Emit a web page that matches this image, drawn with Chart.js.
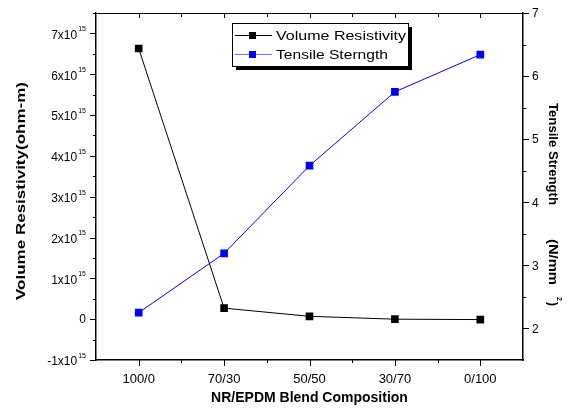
<!DOCTYPE html>
<html>
<head>
<meta charset="utf-8">
<script src="https://cdn.jsdelivr.net/npm/chart.js@4/dist/chart.umd.min.js"></script>
<style>
  body { margin: 0; background: #fff; }
  #wrap { width: 568px; height: 410px; }
</style>
</head>
<body>
<div id="wrap"><canvas id="js--chart"></canvas></div>
<script>
const labels = ["100/0", "70/30", "50/50", "30/70", "0/100"];
const resistivity = [6.63e15, 0.27e15, 0.07e15, 0.0, -0.01e15];
const tensile = [2.25, 3.19, 4.58, 5.75, 6.34];
const leftTicks = [-1, 0, 1, 2, 3, 4, 5, 6, 7];   // x10^15
const rightTicks = [2, 3, 4, 5, 6, 7];

const FONT = "'Liberation Sans', Arial, sans-serif";

// draws text squeezed/stretched so it is exactly `len` px long
function fitText(ctx, text, x, y, len) {
    const w = ctx.measureText(text).width;
    ctx.save();
    ctx.translate(x, y);
    ctx.scale(len / w, 1);
    ctx.fillText(text, 0, 0);
    ctx.restore();
}

// ticks, tick labels with superscripts, frame, axis titles and legend
const axisPlugin = {
    id: "axisPlugin",
    afterDraw(chart) {
        const ctx = chart.ctx;
        const area = chart.chartArea;
        const x = chart.scales.x, y = chart.scales.y, y1 = chart.scales.y1;
        ctx.save();
        ctx.strokeStyle = "#000";
        ctx.fillStyle = "#000";
        ctx.lineWidth = 1;

        // top frame
        ctx.beginPath();
        ctx.moveTo(area.left, area.top + 0.5);
        ctx.lineTo(area.right, area.top + 0.5);
        ctx.stroke();

        ctx.beginPath();
        // left ticks
        for (let v = -1; v <= 7.5; v += 0.5) {
            const py = Math.round(y.getPixelForValue(v * 1e15)) + 0.5;
            const len = Number.isInteger(v) ? 6 : 3;
            ctx.moveTo(area.left, py);
            ctx.lineTo(area.left - len, py);
        }
        // right ticks
        for (let v = 2; v <= 7; v += 0.5) {
            const py = Math.round(y1.getPixelForValue(v)) + 0.5;
            const len = Number.isInteger(v) ? 6 : 3;
            ctx.moveTo(area.right, py);
            ctx.lineTo(area.right + len, py);
        }
        // bottom + top ticks
        for (let i = 0; i < labels.length; i++) {
            const px = Math.round(x.getPixelForValue(i)) + 0.5;
            ctx.moveTo(px, area.bottom);
            ctx.lineTo(px, area.bottom + 6);
            ctx.moveTo(px, area.top);
            ctx.lineTo(px, area.top + 5);
            if (i > 0) {
                const mx = Math.round((x.getPixelForValue(i) + x.getPixelForValue(i - 1)) / 2) + 0.5;
                ctx.moveTo(mx, area.bottom);
                ctx.lineTo(mx, area.bottom + 3);
                ctx.moveTo(mx, area.top);
                ctx.lineTo(mx, area.top + 4);
            }
        }
        ctx.stroke();

        // left labels
        ctx.textBaseline = "middle";
        leftTicks.forEach(function (v) {
            const py = y.getPixelForValue(v * 1e15);
            if (v === 0) {
                ctx.font = "12px " + FONT;
                ctx.textAlign = "right";
                ctx.fillText("0", area.left - 10, py + 1);
            } else {
                ctx.font = "7px " + FONT;
                ctx.textAlign = "right";
                ctx.fillText("15", area.left - 10, py - 4);
                const supW = ctx.measureText("15").width;
                ctx.font = "12px " + FONT;
                ctx.fillText(v + "x10", area.left - 10 - supW - 1, py + 2);
            }
        });

        // right labels
        ctx.textAlign = "left";
        ctx.font = "12px " + FONT;
        rightTicks.forEach(function (v) {
            ctx.fillText(String(v), area.right + 9, y1.getPixelForValue(v) + 1);
        });

        // left title
        ctx.save();
        ctx.translate(22, 300);
        ctx.rotate(-Math.PI / 2);
        ctx.textAlign = "left";
        ctx.font = "bold 12px " + FONT;
        fitText(ctx, "Volume Resistivity(ohm-m)", 0, 0, 218);
        ctx.restore();

        // right title
        ctx.save();
        ctx.translate(552, 103);
        ctx.rotate(Math.PI / 2);
        ctx.textAlign = "left";
        ctx.font = "bold 12px " + FONT;
        fitText(ctx, "Tensile Strength", 0, 0, 102);
        fitText(ctx, "(N/mm", 136, 0, 46);
        ctx.fillText(")", 199, 0);
        ctx.font = "bold 7px " + FONT;
        ctx.fillText("2", 194, -7);
        ctx.restore();

        // legend
        const lx = 232, ly = 23, lw = 176, lh = 43;
        ctx.fillStyle = "#000";
        ctx.fillRect(lx + 4, ly + 4, lw, lh);
        ctx.fillStyle = "#fff";
        ctx.fillRect(lx, ly, lw, lh);
        ctx.strokeStyle = "#000";
        ctx.strokeRect(lx + 0.5, ly + 0.5, lw, lh);
        const rows = [
            { text: "Volume Resistivity", len: 130, color: "#000000", line: "#000000", y: ly + 12 },
            { text: "Tensile Sterngth", len: 112, color: "#0000ff", line: "#6f6fff", y: ly + 31 }
        ];
        rows.forEach(function (r) {
            ctx.strokeStyle = r.line;
            ctx.beginPath();
            ctx.moveTo(lx + 3, r.y + 0.5);
            ctx.lineTo(lx + 40, r.y + 0.5);
            ctx.stroke();
            ctx.fillStyle = r.color;
            ctx.fillRect(lx + 17, r.y - 3, 7, 7);
            ctx.fillStyle = "#000";
            ctx.font = "13px " + FONT;
            ctx.textAlign = "left";
            fitText(ctx, r.text, lx + 44, r.y + 1, r.len);
        });
        ctx.restore();
    }
};

const data = {
    labels: labels,
    datasets: [
        {
            label: "Volume Resistivity",
            data: resistivity,
            yAxisID: "y",
            borderColor: "#000000",
            backgroundColor: "#000000",
            borderWidth: 1,
            pointStyle: "rect",
            pointRadius: 5.4,
            pointBorderWidth: 0,
            tension: 0
        },
        {
            label: "Tensile Sterngth",
            data: tensile,
            yAxisID: "y1",
            borderColor: "#0000ff",
            backgroundColor: "#0000ff",
            borderWidth: 1,
            pointStyle: "rect",
            pointRadius: 5.4,
            pointBorderWidth: 0,
            tension: 0
        }
    ]
};

const config = {
    type: "line",
    data: data,
    options: {
        responsive: true,
        maintainAspectRatio: false,
        animation: false,
        layout: { padding: { top: 13, left: 0, right: 0, bottom: 0 } },
        plugins: {
            legend: { display: false },
            tooltip: { enabled: false }
        },
        scales: {
            x: {
                type: "category",
                offset: true,
                grid: { display: false },
                border: { color: "#000", width: 1.5 },
                ticks: { color: "#000", font: { family: FONT, size: 13 }, padding: 4 },
                title: {
                    display: true,
                    text: "NR/EPDM Blend Composition",
                    color: "#000",
                    font: { family: FONT, size: 14, weight: "bold" },
                    padding: { top: 4, bottom: 3 }
                },
                afterFit: function (s) { s.height = 50; }
            },
            y: {
                position: "left",
                min: -1e15,
                max: 7.5e15,
                grid: { display: false },
                border: { color: "#000", width: 1.5 },
                ticks: { display: false },
                afterFit: function (s) { s.width = 96; }
            },
            y1: {
                position: "right",
                min: 1.5,
                max: 7,
                grid: { display: false },
                border: { color: "#000", width: 1.5 },
                ticks: { display: false },
                afterFit: function (s) { s.width = 45; }
            }
        }
    },
    plugins: [axisPlugin]
};

const chart1 = new Chart(document.getElementById("js--chart"), config);
</script>
</body>
</html>
